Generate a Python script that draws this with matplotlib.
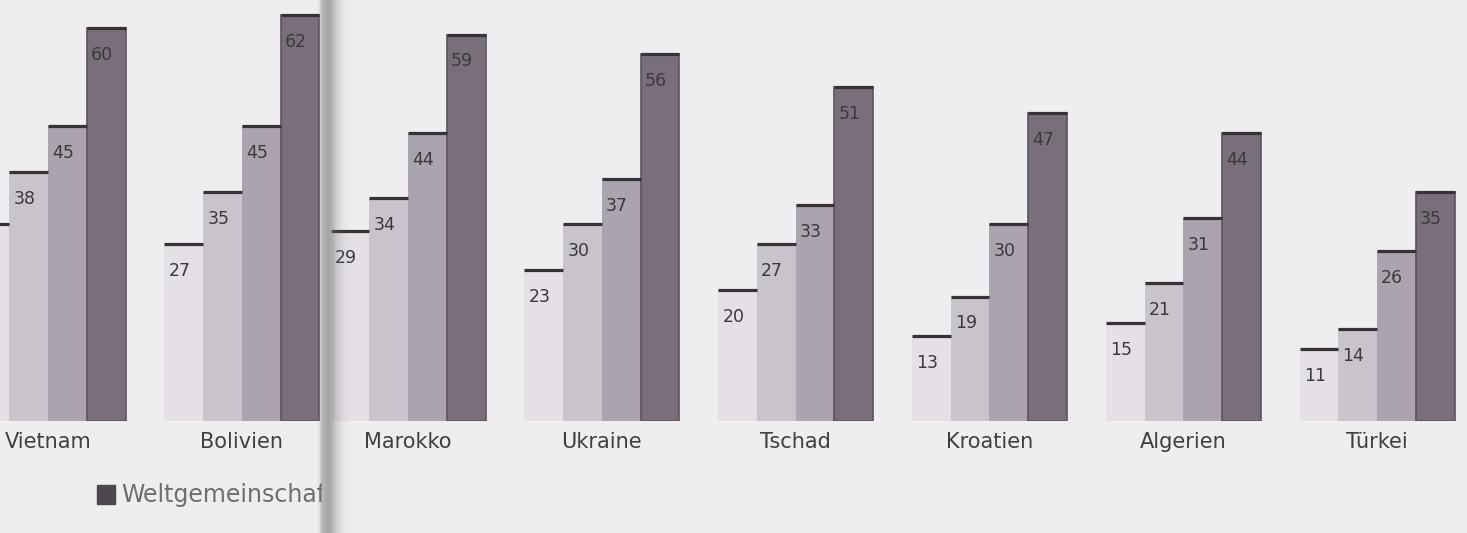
import matplotlib

matplotlib.use("Agg")
import matplotlib.pyplot as plt
import numpy as np
from matplotlib.patches import Rectangle

# Share of population per country, four groups each; last one is the world average.
countries = ["Vietnam", "Bolivien", "Marokko", "Ukraine", "Tschad", "Kroatien", "Algerien", "Türkei"]
group_1 = [30, 27, 29, 23, 20, 13, 15, 11]
group_2 = [38, 35, 34, 30, 27, 19, 21, 14]
group_3 = [45, 45, 44, 37, 33, 30, 31, 26]
weltgemeinschaft = [60, 62, 59, 56, 51, 47, 44, 35]
legend_label = "Weltgemeinschaft"

W, H = 1467, 533
BG = "#eeedf0"
TEXT = "#3a3a3a"
CAP = "#363236"
COLORS = ["#e4e0e6", "#c9c3cb", "#aba3ad", "#786f7a"]
BAR_W = 0.2

plt.rcParams["font.family"] = ["DejaVu Sans"]

fig = plt.figure(figsize=(W / 100, H / 100), dpi=100)
fig.patch.set_facecolor(BG)

series = [group_1, group_2, group_3, weltgemeinschaft]
base_px, top_px = 112, 421  # axes bottom from figure bottom, axes height
split_px = 322  # the page fold between the second and third country


def draw_groups(ax, idx):
    x = np.arange(len(idx))
    for k, (values, color) in enumerate(zip(series, COLORS)):
        vals = [values[i] for i in idx]
        last = k == len(series) - 1
        bars = ax.bar(
            x + (k - 1.5) * BAR_W, vals, BAR_W, color=color,
            edgecolor="#5c535e" if last else "none", linewidth=1.2 if last else 0,
            zorder=2,
        )
        for rect, val in zip(bars, vals):
            x0 = rect.get_x()
            ax.hlines(val, x0, x0 + rect.get_width(), color=CAP, linewidth=2.3, zorder=3)
            ax.annotate(
                str(val), (x0, val), xytext=(3, -23), textcoords="offset points",
                ha="left", va="baseline", fontsize=12.5, color=TEXT, zorder=4,
            )
    ax.set_xticks(x, [countries[i] for i in idx])
    ax.tick_params(axis="x", length=0, pad=8, labelsize=15, labelcolor="#404040")
    ax.set_yticks([])
    ax.set_ylim(0, top_px / 6.55)
    ax.set_facecolor("none")
    for spine in ax.spines.values():
        spine.set_visible(False)


ax_left = fig.add_axes([0, base_px / H, split_px / W, top_px / H])
draw_groups(ax_left, [0, 1])
ax_left.set_xlim(-0.248, 1.414)

ax_right = fig.add_axes([split_px / W, base_px / H, (W - split_px) / W, top_px / H])
draw_groups(ax_right, list(range(2, len(countries))))
ax_right.set_xlim(-0.444, 5.464)

# legend entry under the left page, cut off at the fold
ax_leg = fig.add_axes([0, 0, split_px / W, 110 / H])
ax_leg.set_xlim(0, split_px)
ax_leg.set_ylim(0, 110)
ax_leg.axis("off")
ax_leg.add_patch(Rectangle((97, 29), 18, 19, color="#4e474f"))
ax_leg.text(121, 38, legend_label, fontsize=17, color="#6e6e6e", va="center", ha="left", clip_on=True)

# shadow of the book fold
ax_fold = fig.add_axes([316 / W, 0, 36 / W, 1])
ax_fold.axis("off")
cols = np.arange(36)
alpha = np.interp(cols, [0, 3, 5, 8, 12, 16, 20, 26, 35], [0, 0.1, 0.4, 0.5, 0.6, 0.45, 0.25, 0.08, 0])
rgba = np.zeros((1, 36, 4))
rgba[..., :3] = 0.45
rgba[..., 3] = alpha
ax_fold.imshow(rgba, aspect="auto", extent=(0, 36, 0, 1), interpolation="bilinear")

fig.savefig("out.png", dpi=100, facecolor=BG)
